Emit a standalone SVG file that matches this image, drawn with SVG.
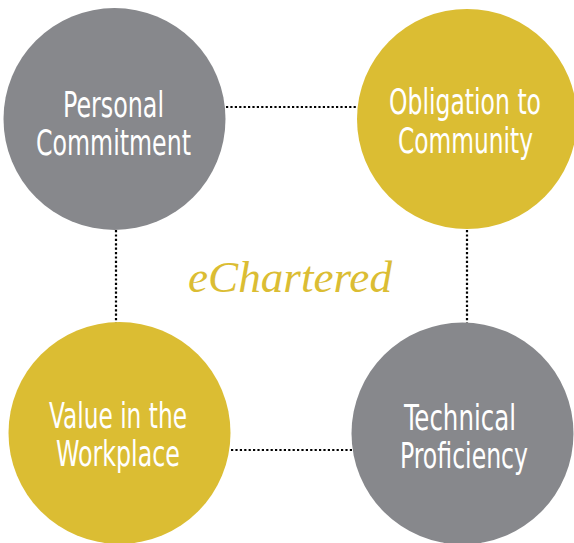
<svg xmlns="http://www.w3.org/2000/svg" width="574" height="543" viewBox="0 0 574 543">
<style>
.gray{fill:#87888c}
.gold{fill:#dbbd33}
.lbl{fill:#ffffff;font-family:"DejaVu Sans Condensed","DejaVu Sans",sans-serif;font-size:35px;font-stretch:condensed}
.dot{stroke:#000;stroke-width:2.2;stroke-dasharray:2.2 2.2;fill:none}
.title{fill:#dbbd33;font-family:"Liberation Serif",serif;font-style:italic;font-size:44px}
</style>
<rect width="574" height="543" fill="#ffffff"/>
<g id="connectors">
<line class="dot" x1="226" y1="107" x2="357" y2="107"/>
<line class="dot" x1="116" y1="230" x2="116" y2="323"/>
<line class="dot" x1="467" y1="230" x2="467" y2="323"/>
<line class="dot" x1="231" y1="450" x2="352" y2="450"/>
</g>
<g id="personal-commitment">
<circle class="gray" cx="114.5" cy="119" r="111"/>
<text class="lbl" x="63" y="117" textLength="101" lengthAdjust="spacingAndGlyphs">Personal</text>
<text class="lbl" x="36" y="155" textLength="155" lengthAdjust="spacingAndGlyphs">Commitment</text>
</g>
<g id="obligation-to-community">
<circle class="gold" cx="467" cy="119" r="110"/>
<text class="lbl" x="389" y="114" textLength="152" lengthAdjust="spacingAndGlyphs">Obligation to</text>
<text class="lbl" x="398" y="153" textLength="135" lengthAdjust="spacingAndGlyphs">Community</text>
</g>
<g id="value-in-the-workplace">
<circle class="gold" cx="119.5" cy="433" r="111"/>
<text class="lbl" x="49" y="428" textLength="138" lengthAdjust="spacingAndGlyphs">Value in the</text>
<text class="lbl" x="56" y="466" textLength="124" lengthAdjust="spacingAndGlyphs">Workplace</text>
</g>
<g id="technical-proficiency">
<circle class="gray" cx="462.5" cy="433.5" r="111"/>
<text class="lbl" x="404" y="430" textLength="112" lengthAdjust="spacingAndGlyphs">Technical</text>
<text class="lbl" x="400" y="468" textLength="128" lengthAdjust="spacingAndGlyphs">Proficiency</text>
</g>
<g id="title">
<text class="title" x="188" y="292" textLength="204" lengthAdjust="spacingAndGlyphs">eChartered</text>
</g>
</svg>
